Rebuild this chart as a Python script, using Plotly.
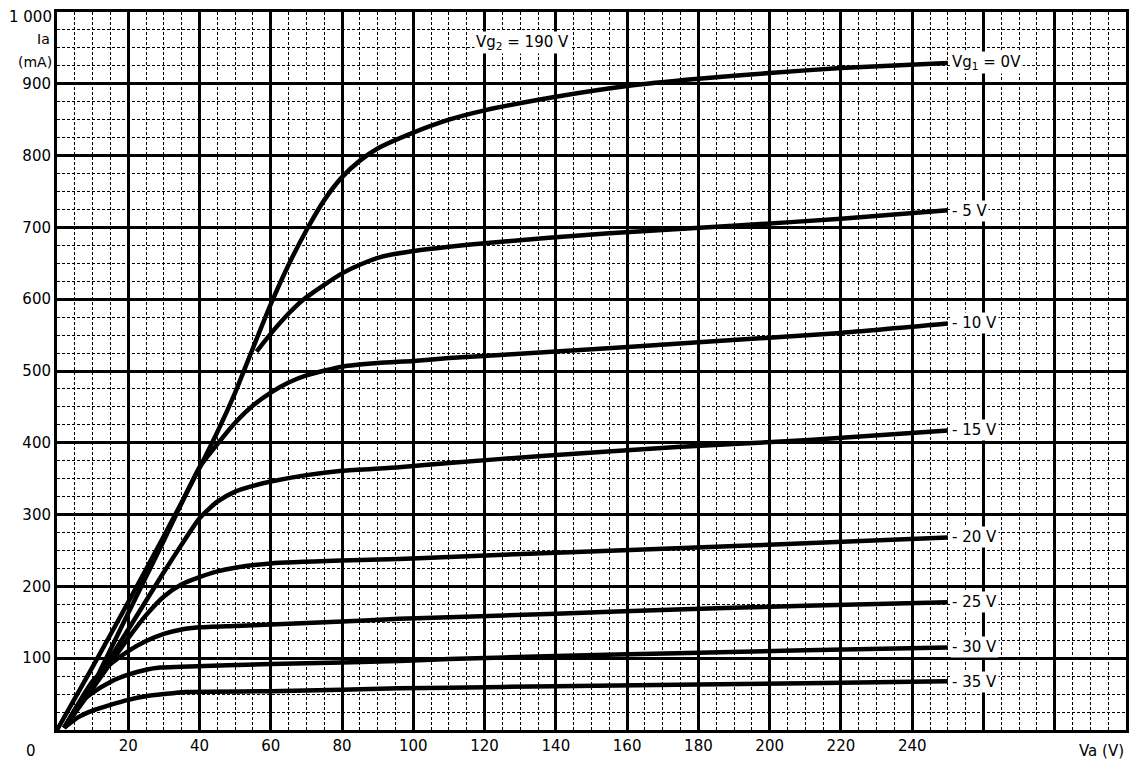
import plotly.graph_objects as go

# Anode characteristics, Ia (mA) vs Va (V), Vg2 = 190 V
va_0 = [0, 10, 20, 30, 40, 45, 50, 55, 60, 65, 70, 75, 80, 85, 90, 100, 110, 120, 140, 160, 180, 200, 220, 250]
ia_0 = [0, 88, 178, 270, 365, 415, 470, 532, 593, 648, 696, 738, 770, 793, 810, 832, 850, 863, 882, 897, 907, 915, 922, 929]

va_5 = [56, 60, 65, 69, 75, 80, 85, 91, 100, 110, 120, 155, 192, 220, 250]
ia_5 = [527, 552, 580, 599, 620, 636, 648, 659, 667, 673, 678, 692, 703, 712, 724]

va_10 = [9.5, 20, 30, 40, 44, 50, 55, 60, 65, 70, 80, 90, 100, 110, 140, 180, 220, 250]
ia_10 = [56, 163, 264, 366, 392, 428, 452, 470, 484, 494, 506, 511, 514, 518, 527, 540, 553, 566]

va_15 = [2, 10, 20, 30, 36, 40, 45, 50, 55, 60, 70, 80, 96, 110, 137, 174, 211, 250]
ia_15 = [3, 61, 140, 220, 266, 295, 318, 332, 340, 346, 355, 361, 366, 372, 382, 394, 404, 417]

va_20 = [2, 10, 20, 25, 30, 35, 40, 45, 50, 60, 80, 96, 110, 140, 174, 210, 250]
ia_20 = [3, 58, 128, 160, 186, 203, 213, 221, 226, 232, 236, 238, 241, 247, 253, 260, 268]

va_25 = [2, 10, 15, 20, 25, 30, 35, 40, 50, 60, 80, 96, 110, 140, 174, 210, 250]
ia_25 = [3, 68, 92, 110, 124, 134, 140, 143, 145, 147, 151, 155, 157, 162, 168, 173, 178]

va_30 = [2, 6, 10, 15, 20, 25, 29, 35, 60, 80, 96, 110, 140, 174, 210, 250]
ia_30 = [3, 35, 52, 67, 77, 84, 87, 88, 92, 94, 96, 99, 103, 107, 111, 115]

va_35 = [2, 6, 10, 15, 20, 25, 30, 36, 60, 80, 96, 110, 140, 174, 210, 250]
ia_35 = [3, 18, 27, 35, 42, 47, 50, 53, 54, 56, 58, 59, 61, 63, 65, 68]

curves = [
    (va_0, ia_0), (va_5, ia_5), (va_10, ia_10), (va_15, ia_15),
    (va_20, ia_20), (va_25, ia_25), (va_30, ia_30), (va_35, ia_35),
]

curve_labels = ["Vg<sub>1</sub> = 0V", "- 5 V", "- 10 V", "- 15 V", "- 20 V", "- 25 V", "- 30 V", "- 35 V"]
label_ia = [929, 723, 567, 418, 269, 178, 116, 67]

x_tickvals = list(range(0, 301, 20))
x_ticktext = [""] + [str(v) for v in range(20, 241, 20)] + ["", "", ""]
y_tickvals = list(range(0, 1001, 100))
y_ticktext = [""] + [str(v) for v in range(100, 901, 100)] + [""]
y_top_label = "1 000"

FONT = "DejaVu Sans"

fig = go.Figure()
for va, ia in curves:
    fig.add_trace(go.Scatter(x=va, y=ia, mode="lines",
                             line=dict(color="black", width=4.5, shape="spline", smoothing=0.6),
                             hoverinfo="skip", showlegend=False))

for txt, yv in zip(curve_labels, label_ia):
    fig.add_annotation(x=250.5, y=yv, text=txt, showarrow=False, xanchor="left", yanchor="middle",
                       bgcolor="white", font=dict(family=FONT, size=15, color="black"), borderpad=1)

fig.add_annotation(x=130.5, y=958, text="Vg<sub>2</sub> = 190 V", showarrow=False,
                   xanchor="center", yanchor="middle", bgcolor="white",
                   font=dict(family=FONT, size=15, color="black"))

# axis captions
fig.add_annotation(xref="paper", yref="paper", x=-0.003, y=1.0, yshift=-5, text=y_top_label,
                   showarrow=False, xanchor="right", yanchor="middle",
                   font=dict(family=FONT, size=15, color="black"))
fig.add_annotation(xref="paper", yref="paper", x=-0.005, y=0.962, text="Ia", showarrow=False,
                   xanchor="right", yanchor="middle", font=dict(family=FONT, size=14, color="black"))
fig.add_annotation(xref="paper", yref="paper", x=-0.003, y=0.930, text="(mA)", showarrow=False,
                   xanchor="right", yanchor="middle", font=dict(family=FONT, size=14, color="black"))
fig.add_annotation(xref="paper", yref="paper", x=-0.018, y=-0.029, text="0", showarrow=False,
                   xanchor="right", yanchor="middle", font=dict(family=FONT, size=15, color="black"))
fig.add_annotation(xref="paper", yref="paper", x=1.0, y=-0.029, text="Va (V)", showarrow=False,
                   xanchor="right", yanchor="middle", font=dict(family=FONT, size=15, color="black"))

fig.update_xaxes(range=[0, 300], tickmode="array", tickvals=x_tickvals, ticktext=x_ticktext,
                 showgrid=True, gridcolor="black", gridwidth=2.5, automargin=False,
                 minor=dict(dtick=5, tick0=0, showgrid=True, gridcolor="black", gridwidth=1,
                            griddash="3px,2px"),
                 showline=True, linecolor="black", linewidth=3, mirror=True, ticks="",
                 zeroline=False, tickfont=dict(family=FONT, size=15, color="black"))
fig.update_yaxes(range=[0, 1000], tickmode="array", tickvals=y_tickvals, ticktext=y_ticktext,
                 showgrid=True, gridcolor="black", gridwidth=2.5, automargin=False,
                 minor=dict(dtick=25, tick0=0, showgrid=True, gridcolor="black", gridwidth=1,
                            griddash="3px,2px"),
                 showline=True, linecolor="black", linewidth=3, mirror=True, ticks="",
                 zeroline=False, tickfont=dict(family=FONT, size=15, color="black"))

# the page body has an 8px default margin, so the figure is sized/offset to compensate
fig.update_layout(width=1127, height=753, margin=dict(l=49, r=9, t=4, b=31, autoexpand=False),
                  paper_bgcolor="white", plot_bgcolor="white", showlegend=False)

fig.write_html("out.html")
